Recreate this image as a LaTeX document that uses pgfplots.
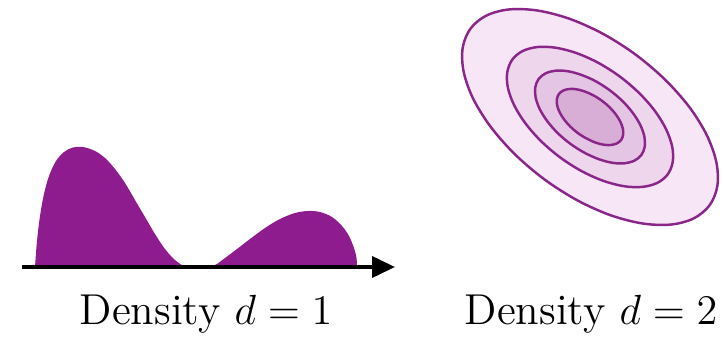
\documentclass[border=0pt]{standalone}
\usepackage{pgfplots}
\pgfplotsset{compat=1.18}
\usetikzlibrary{arrows.meta}
\definecolor{dpurple}{RGB}{142,28,142}
\definecolor{eline}{RGB}{138,38,138}
\definecolor{e1}{RGB}{247,231,246}
\definecolor{e2}{RGB}{238,214,237}
\definecolor{e3}{RGB}{229,197,228}
\definecolor{e4}{RGB}{216,174,215}
\begin{document}
\begin{tikzpicture}
\begin{axis}[scale only axis, width=7.24cm, height=3.46cm,
  xmin=0, xmax=724, ymin=0, ymax=346, hide axis, clip=false]
\addplot[draw=none] coordinates {(0,0) (724,346)};
% density d=1
\addplot[smooth, tension=0.55, fill=dpurple, draw=none] coordinates {
(35,79) (37,105) (40,130) (44,152) (49,170) (56,185) (64,194) (73,198.5) (83,199)
(95,195) (105,188) (115,177) (125,163) (135,146) (145,129) (155,112) (165,97)
(175,86) (185,79.5) (195,79) (205,79.5) (215,81) (225,88) (237,97) (250,107)
(265,118) (280,127) (295,133) (308,135) (320,134) (332,129) (342,120) (349,110)
(354,98) (356.5,88) (357,79)} -- cycle;
\addplot[line width=1.1pt, -{Triangle[length=2.3mm,width=2.1mm]}] coordinates {(22,79) (395,79)};
% density d=2 contours
\addplot[smooth cycle, tension=0.55, fill=e1, draw=eline, line width=0.7pt] coordinates {
(709.5,140.6) (717.3,159.7) (716.4,183.5) (707.0,210.4) (689.6,238.6) (665.3,266.1)
(636.0,291.1) (603.5,311.9) (570.1,327.0) (538.0,335.4) (509.5,336.6) (486.5,330.5)
(470.5,317.4) (462.7,298.3) (463.6,274.5) (473.0,247.6) (490.5,219.4) (514.7,191.9)
(544.0,166.9) (576.5,146.1) (609.9,131.0) (642.0,122.6) (670.5,121.4) (693.5,127.5)};
\addplot[smooth cycle, tension=0.55, fill=e2, draw=eline, line width=0.7pt] coordinates {
(667.7,171.6) (672.7,184.0) (672.2,199.4) (666.0,216.9) (654.7,235.3) (639.0,253.1)
(619.9,269.4) (598.8,282.9) (577.1,292.7) (556.2,298.2) (537.7,299.0) (522.7,295.0)
(512.4,286.5) (507.3,274.0) (507.8,258.6) (514.0,241.1) (525.3,222.8) (541.0,204.9)
(560.1,188.6) (581.2,175.1) (602.9,165.3) (623.8,159.8) (642.3,159.1) (657.3,163.1)};
\addplot[smooth cycle, tension=0.55, fill=e3, draw=eline, line width=0.7pt] coordinates {
(641.4,191.0) (644.7,199.2) (644.4,209.4) (640.3,221.0) (632.8,233.1) (622.4,245.0)
(609.8,255.7) (595.8,264.7) (581.4,271.1) (567.7,274.8) (555.4,275.3) (545.5,272.6)
(538.6,267.0) (535.3,258.8) (535.6,248.6) (539.7,237.0) (547.2,224.9) (557.6,213.0)
(570.2,202.3) (584.2,193.4) (598.6,186.9) (612.3,183.2) (624.6,182.7) (634.5,185.4)};
\addplot[smooth cycle, tension=0.55, fill=e4, draw=eline, line width=0.7pt] coordinates {
(621.1,206.0) (623.1,211.0) (622.9,217.2) (620.4,224.2) (615.9,231.5) (609.6,238.7)
(602.0,245.2) (593.5,250.6) (584.8,254.5) (576.5,256.7) (569.1,257.0) (563.1,255.4)
(558.9,252.0) (556.9,247.0) (557.1,240.8) (559.6,233.8) (564.1,226.5) (570.4,219.3)
(578.0,212.8) (586.5,207.5) (595.2,203.5) (603.5,201.3) (610.9,201.0) (616.9,202.6)};
\node[anchor=base, font=\fontsize{12.3}{14}\selectfont, inner sep=0pt] at (axis cs:206,22) {Density $d=1$};
\node[anchor=base, font=\fontsize{12.3}{14}\selectfont, inner sep=0pt] at (axis cs:591,22) {Density $d=2$};
\end{axis}
\end{tikzpicture}
\end{document}
